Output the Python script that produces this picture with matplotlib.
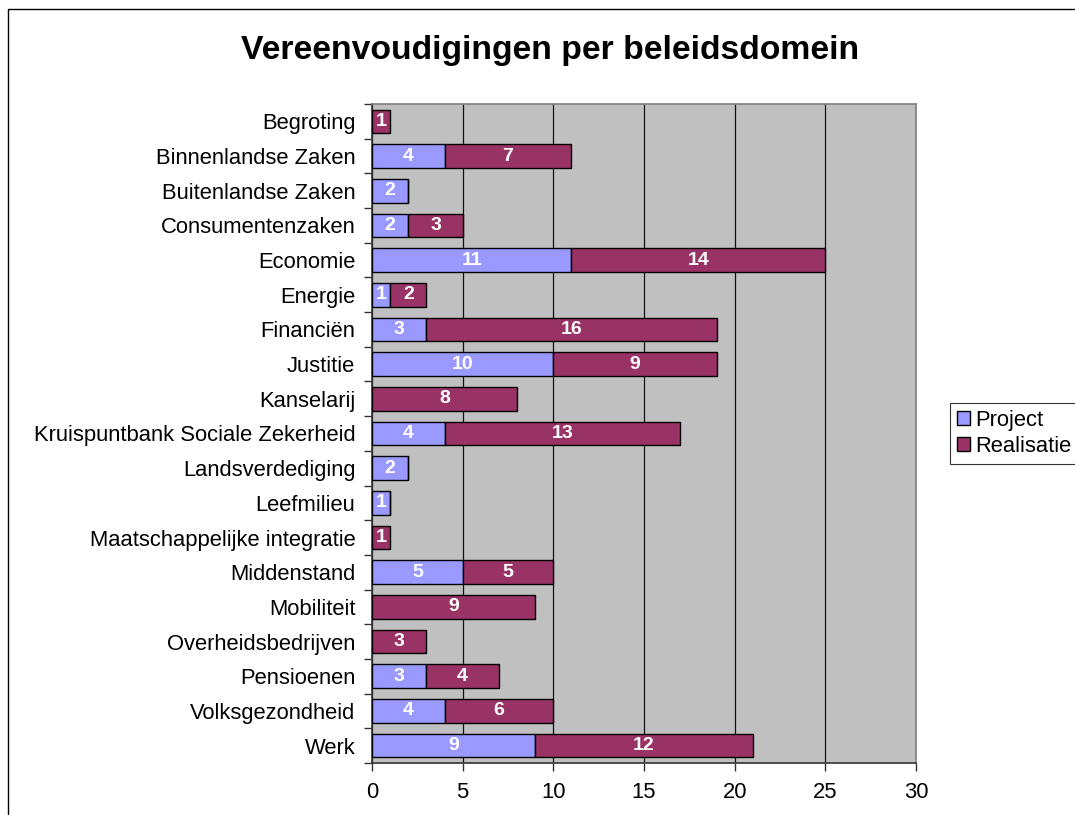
import matplotlib
matplotlib.use("Agg")
import matplotlib.pyplot as plt
from matplotlib.patches import Rectangle

categories = ["Begroting", "Binnenlandse Zaken", "Buitenlandse Zaken", "Consumentenzaken",
              "Economie", "Energie", "Financiën", "Justitie", "Kanselarij",
              "Kruispuntbank Sociale Zekerheid", "Landsverdediging", "Leefmilieu",
              "Maatschappelijke integratie", "Middenstand", "Mobiliteit",
              "Overheidsbedrijven", "Pensioenen", "Volksgezondheid", "Werk"]
project = [0, 4, 2, 2, 11, 1, 3, 10, 0, 4, 2, 1, 0, 5, 0, 0, 3, 4, 9]
realisatie = [1, 7, 0, 3, 14, 2, 16, 9, 8, 13, 0, 0, 1, 5, 9, 3, 4, 6, 12]
xticks = [0, 5, 10, 15, 20, 25, 30]

plt.rcParams['font.family'] = ['Liberation Sans', 'DejaVu Sans']

fig = plt.figure(figsize=(10.75, 8.15), dpi=100)
fig.patches.append(Rectangle((8/1075, -0.1), 1.2, 1 - 9/815 + 0.1, transform=fig.transFigure,
                             fill=False, edgecolor='black', linewidth=1.0))

ax = fig.add_axes([372/1075, 1 - 763/815, (916 - 372)/1075, (763 - 104)/815])
ax.set_facecolor('#C0C0C0')

n = len(categories)
ypos = list(range(n))
h = 0.68
c_proj = '#9999FF'
c_real = '#993366'
bp = ax.barh(ypos, project, height=h, color=c_proj, edgecolor='black', linewidth=1.0,
             label='Project', zorder=3)
br = ax.barh(ypos, realisatie, left=project, height=h, color=c_real, edgecolor='black',
             linewidth=1.0, label='Realisatie', zorder=3)

for i in range(n):
    if project[i] > 0:
        ax.text(project[i] / 2, i, str(project[i]), ha='center', va='center', color='white',
                fontsize=14, fontweight='bold', zorder=4)
    if realisatie[i] > 0:
        ax.text(project[i] + realisatie[i] / 2, i, str(realisatie[i]), ha='center', va='center',
                color='white', fontsize=14, fontweight='bold', zorder=4)

ax.set_xlim(0, 30)
ax.set_ylim(n - 0.5, -0.5)
ax.set_xticks(xticks)
ax.set_xticklabels([str(t) for t in xticks], fontsize=15.8)
ax.set_yticks(ypos)
ax.set_yticklabels(categories, fontsize=15.8)
ax.tick_params(axis='y', length=0, pad=12)
ax.set_yticks([i + 0.5 for i in range(-1, n)], minor=True)
ax.tick_params(axis='y', which='minor', length=6, width=1, color='#333333')
ax.tick_params(axis='x', length=6, width=1, color='#333333', pad=8)

ax.xaxis.grid(True, color='#111111', linewidth=0.9, zorder=1)
ax.set_axisbelow(True)
for s in ['top', 'right']:
    ax.spines[s].set_color('#808080')
    ax.spines[s].set_linewidth(1.2)
for s in ['left', 'bottom']:
    ax.spines[s].set_color('#333333')
    ax.spines[s].set_linewidth(1.2)

fig.text(550/1075, 1 - 50/815, "Vereenvoudigingen per beleidsdomein", ha='center', va='center',
         fontsize=24.3, fontweight='bold')

leg = fig.legend(handles=[bp, br], labels=['Project', 'Realisatie'],
                 loc='upper left', bbox_to_anchor=(950/1075, 1 - 403/815),
                 fontsize=15.8, frameon=True, fancybox=False, edgecolor='black',
                 handlelength=0.6, handleheight=0.6, handletextpad=0.25,
                 borderpad=0.3, labelspacing=0.25, borderaxespad=0)
leg.get_frame().set_linewidth(0.8)

fig.savefig('out.png', dpi=100)
